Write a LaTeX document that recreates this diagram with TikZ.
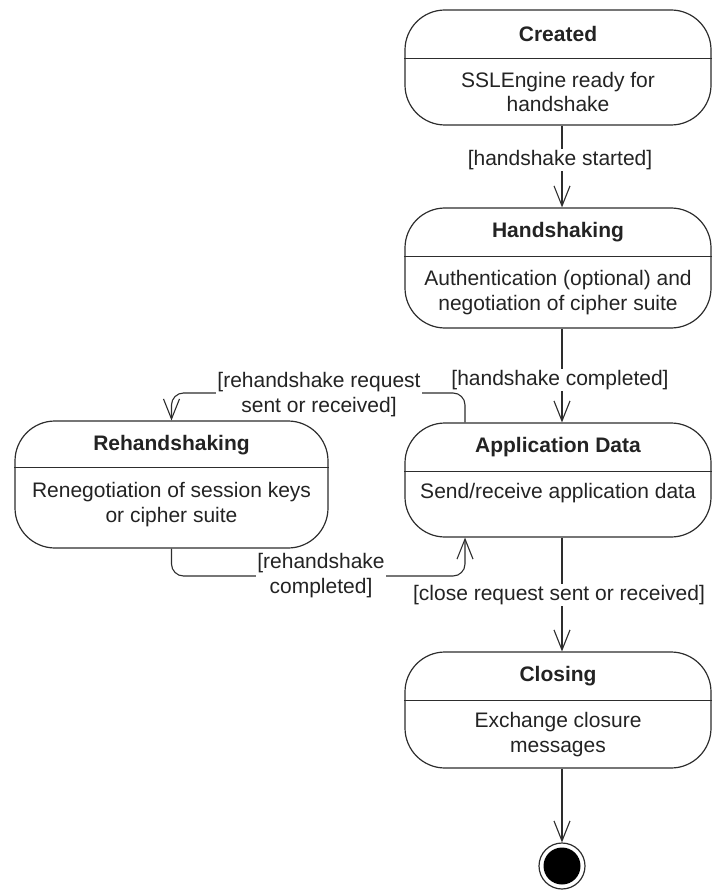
\documentclass[tikz,border=0pt]{standalone}
\usepackage{fontspec}
\setmainfont{Liberation Sans}
\usetikzlibrary{arrows.meta, positioning, calc}
\definecolor{cLine}{RGB}{45,45,45}
\definecolor{cText}{RGB}{35,35,35}

\begin{document}
\begin{tikzpicture}[
  x=1pt, y=-1pt,
  font=\fontsize{21}{24.5}\selectfont,
  text=cText,
  % ── state boxes
  stbox/.style={
    draw=cLine, rounded corners=40pt, line width=1.2pt,
    minimum width=306pt, inner sep=0pt
  },
  sttl/.style ={font=\fontsize{21}{24.5}\selectfont\bfseries},
  stbody/.style={align=center},
  divl/.style ={draw=cLine, line width=1.2pt},
  % ── final state
  endst/.style={
    circle, draw=cLine, line width=1.2pt, minimum size=46pt, inner sep=0pt,
    path picture={\fill[black] (path picture bounding box.center) circle (18.5pt);}
  },
  % ── transitions
  arr/.style ={-{Straight Barb[length=20pt, width=16pt, line width=1.1pt]},
               draw=cLine, line width=1.1pt},
  glbl/.style={fill=white, inner sep=1pt, align=center},
]
\useasboundingbox (0,0) rectangle (711,890);

%% ── states
\node[stbox, minimum height=115pt] (cre) at (558,67.5) {};
\node[sttl]   (creT) at ($(cre.north)+(0,24.5)$) {Created};
\draw[divl] ($(cre.north west)+(0,49)$) -- ($(cre.north east)+(0,49)$);
\node[stbody] (creB) at ($(cre.center)+(0,24.5)$) {SSLEngine ready for\\handshake};

\node[stbox, minimum height=120pt] (hs) at (558,268) {};
\node[sttl]   (hsT) at ($(hs.north)+(0,24.5)$) {Handshaking};
\draw[divl] ($(hs.north west)+(0,49)$) -- ($(hs.north east)+(0,49)$);
\node[stbody] (hsB) at ($(hs.center)+(0,24.5)$) {Authentication (optional) and\\negotiation of cipher suite};

\node[stbox, minimum height=114pt] (app) at (558,480) {};
\node[sttl]   (appT) at ($(app.north)+(0,24.5)$) {Application Data};
\draw[divl] ($(app.north west)+(0,49)$) -- ($(app.north east)+(0,49)$);
\node[stbody] (appB) at ($(app.north)+(0,71)$) {Send/receive application data};

\node[stbox, minimum height=127pt, minimum width=313pt] (rh) at (171.5,484.5) {};
\node[sttl]   (rhT) at ($(rh.north)+(0,24.5)$) {Rehandshaking};
\draw[divl] ($(rh.north west)+(0,47)$) -- ($(rh.north east)+(0,47)$);
\node[stbody] (rhB) at ($(rh.north)+(0,84)$) {Renegotiation of session keys\\or cipher suite};

\node[stbox, minimum height=116pt] (cls) at (558,710) {};
\node[sttl]   (clsT) at ($(cls.north)+(0,24.5)$) {Closing};
\draw[divl] ($(cls.north west)+(0,49)$) -- ($(cls.north east)+(0,49)$);
\node[stbody] (clsB) at ($(cls.center)+(0,24.5)$) {Exchange closure\\messages};

\node[endst] (fin) at (562,866) {};

%% ── transitions
\coordinate (rqT) at (465,393);
\coordinate (rcB) at (465,576);

\draw[arr] (cre.south -| fin) -- (hs.north -| fin);
\draw[arr] (hs.south -| fin)  -- (app.north -| fin);
\draw[arr] (app.south -| fin) -- (cls.north -| fin);
\draw[arr] (cls.south -| fin) -- (fin);
\draw[arr, rounded corners=12pt] (app.north -| rqT) -- (rqT) -| (rh.north);
\draw[arr, rounded corners=12pt] (rh.south) |- (rcB) -- (app.south -| rcB);

%% ── guards
\node[glbl] (gStart) at (560,160)   {[handshake started]};
\node[glbl] (gDone)  at (560,380)   {[handshake completed]};
\node[glbl] (gClose) at (559,595)   {[close request sent or received]};
\node[glbl] (gReq)   at (319,394.5) {[rehandshake request\\sent or received]};
\node[glbl] (gRDone) at (321,575.5) {[rehandshake\\completed]};

\end{tikzpicture}
\end{document}
